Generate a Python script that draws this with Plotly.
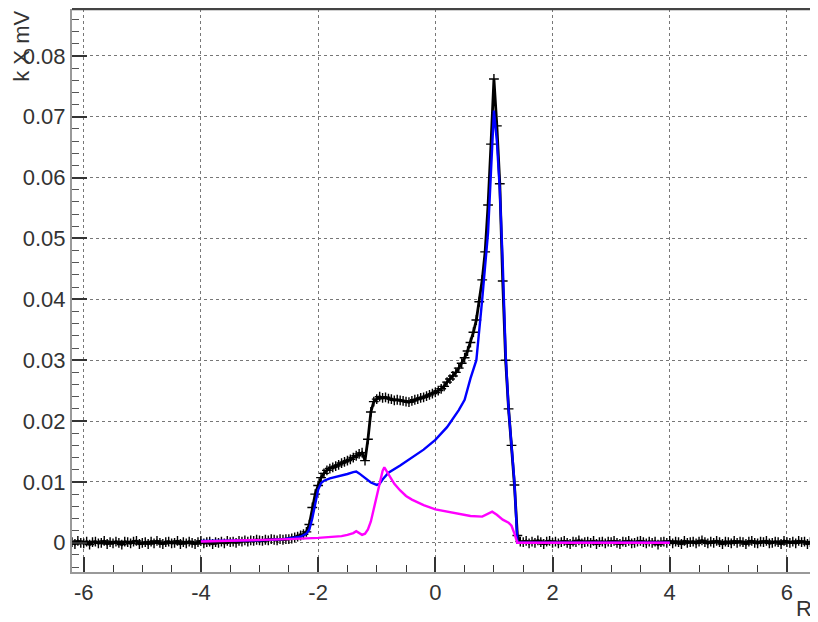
import numpy as np
import plotly.graph_objects as go

# ---------------- data ----------------
black_x0 = -6.2
black_step = 0.05
black_left = [
    0.0001, -0.0002, 0.0003, 0.0000, -0.0001, 0.0002, -0.0003, 0.0001, 0.0002, -0.0001,
    0.0000, 0.0003, -0.0002, 0.0001, -0.0001, 0.0002, 0.0000, -0.0003, 0.0002, 0.0001,
    -0.0001, 0.0002, 0.0003, -0.0002, 0.0000, 0.0001, -0.0002, 0.0002, -0.0001, 0.0003,
    0.0000, -0.0002, 0.0001, 0.0002, -0.0001, 0.0000, 0.0003, -0.0002, 0.0001, -0.0001,
    0.0002, 0.0000, -0.0002, 0.0001, 0.0003, -0.0001, 0.0001, 0.0002, -0.0002, 0.0001,
    0.0000, 0.0002, -0.0001, 0.0003, 0.0001, 0.0002, 0.0000, 0.0003, 0.0002, 0.0004,
    0.0002, 0.0004, 0.0003, 0.0005, 0.0004, 0.0003, 0.0005, 0.0004, 0.0006, 0.0005,
    0.0004, 0.0006, 0.0005, 0.0006,
]
black_mid = [
    0.0006, 0.0007, 0.0009, 0.0010, 0.0012, 0.0014, 0.0018, 0.0030, 0.0058, 0.0080,
    0.0094, 0.0107, 0.0114, 0.0119, 0.0122, 0.0124, 0.0126, 0.0128, 0.0131, 0.0133,
    0.0135, 0.0137, 0.0140, 0.0143, 0.0146, 0.0148, 0.0135, 0.0170, 0.0215, 0.0232,
    0.0236, 0.0240, 0.0238, 0.0239, 0.0237, 0.0236, 0.0234, 0.0235, 0.0234, 0.0233,
    0.0232, 0.0231, 0.0233, 0.0235, 0.0236, 0.0238, 0.0239, 0.0241, 0.0243, 0.0245,
    0.0247, 0.0250, 0.0253, 0.0257, 0.0264, 0.0269, 0.0274, 0.0280, 0.0287, 0.0295,
    0.0304, 0.0315, 0.0329, 0.0346, 0.0366, 0.0396, 0.0432, 0.0478, 0.0555, 0.0655,
    0.0762, 0.0685, 0.0590, 0.0430, 0.0300, 0.0220, 0.0160, 0.0095, 0.0012, 0.0002,
]
black_right = [
    0.0001, 0.0003, -0.0001, 0.0002, 0.0000, 0.0004, 0.0001, -0.0002, 0.0002, 0.0003,
    0.0000, 0.0002, -0.0001, 0.0001, 0.0003, 0.0000, -0.0002, 0.0002, 0.0001, 0.0004,
    -0.0001, 0.0001, 0.0002, 0.0000, 0.0003, -0.0002, 0.0001, 0.0002, -0.0001, 0.0002,
    0.0001, 0.0003, 0.0000, -0.0002, 0.0002, 0.0001, 0.0003, -0.0001, 0.0000, 0.0002,
    0.0003, 0.0001, -0.0001, 0.0002, 0.0000, 0.0002, -0.0003, 0.0001, 0.0002, 0.0000,
    0.0003, -0.0001, 0.0002, 0.0001, -0.0002, 0.0003, 0.0000, 0.0001, 0.0002, -0.0001,
    0.0002, 0.0004, 0.0001, -0.0001, 0.0002, 0.0000, 0.0003, 0.0001, -0.0002, 0.0002,
    0.0001, -0.0001, 0.0003, 0.0000, 0.0002, 0.0001, -0.0002, 0.0002, 0.0003, 0.0000,
    -0.0001, 0.0002, 0.0001, 0.0003, -0.0001, 0.0000, 0.0002, 0.0001, -0.0002, 0.0003,
    0.0001, 0.0000, 0.0002, -0.0001, 0.0003, 0.0001, 0.0002, -0.0002, 0.0001, 0.0000,
    0.0002,
]

blue_x = [-4.0, -3.5, -3.0, -2.6, -2.4, -2.3, -2.2, -2.15, -2.1, -2.05, -2.0, -1.95,
          -1.9, -1.8, -1.7, -1.6, -1.5, -1.4, -1.35, -1.3, -1.2, -1.1, -1.0, -0.95,
          -0.9, -0.8, -0.6, -0.4, -0.2, 0.0, 0.2, 0.4, 0.5, 0.6, 0.7, 0.8, 0.85, 0.9,
          0.95, 1.0, 1.05, 1.1, 1.15, 1.2, 1.25, 1.3, 1.35, 1.4, 2.0, 3.0, 4.0]
blue_y = [0.0003, 0.0003, 0.0004, 0.0006, 0.0008, 0.0010, 0.0015, 0.0022, 0.0040, 0.0065,
          0.0087, 0.0098, 0.0102, 0.0106, 0.0108, 0.0110, 0.0113, 0.0116, 0.0117, 0.0114,
          0.0106, 0.0099, 0.0095, 0.0097, 0.0104, 0.0115, 0.0127, 0.0140, 0.0153, 0.0169,
          0.0190, 0.0218, 0.0235, 0.0270, 0.0300, 0.0400, 0.0450, 0.0510, 0.0610, 0.0710,
          0.0660, 0.0580, 0.0460, 0.0310, 0.0220, 0.0160, 0.0100, 0.0000, 0.0000, 0.0000,
          0.0000]

mag_x = [-4.0, -3.5, -3.0, -2.5, -2.0, -1.8, -1.6, -1.5, -1.4, -1.35, -1.3, -1.25, -1.2,
         -1.15, -1.1, -1.05, -1.0, -0.95, -0.9, -0.87, -0.8, -0.7, -0.6, -0.5, -0.4, -0.2,
         0.0, 0.2, 0.4, 0.6, 0.8, 0.9, 0.97, 1.05, 1.15, 1.25, 1.3, 1.35, 1.4, 2.0, 3.0, 4.0]
mag_y = [0.0002, 0.0003, 0.0004, 0.0006, 0.0008, 0.0009, 0.0011, 0.0013, 0.0016, 0.0019,
         0.0016, 0.0013, 0.0015, 0.0022, 0.0035, 0.0055, 0.0078, 0.0100, 0.0118, 0.0124,
         0.0112, 0.0097, 0.0086, 0.0077, 0.0071, 0.0062, 0.0055, 0.0051, 0.0047, 0.0044,
         0.0043, 0.0047, 0.0051, 0.0046, 0.0038, 0.0033, 0.0028, 0.0015, 0.0000, 0.0000,
         0.0000, 0.0000]

x_ticks = [-6, -4, -2, 0, 2, 4, 6]
x_ticktext = ["-6", "-4", "-2", "0", "2", "4", "6"]
y_ticks = [0, 0.01, 0.02, 0.03, 0.04, 0.05, 0.06, 0.07, 0.08]
y_ticktext = ["0", "0.01", "0.02", "0.03", "0.04", "0.05", "0.06", "0.07", "0.08"]
x_title = "R"
y_title = "k X mV"

# ---------------- figure ----------------
black_y = black_left + black_mid + black_right
black_x = black_x0 + black_step * np.arange(len(black_y))

fig = go.Figure()
fig.add_trace(go.Scatter(
    x=black_x, y=black_y, mode="lines+markers",
    line=dict(color="black", width=2.8),
    marker=dict(symbol="cross-thin", size=7, line=dict(color="black", width=1.4)),
    showlegend=False, hoverinfo="skip"))
fig.add_trace(go.Scatter(
    x=blue_x, y=blue_y, mode="lines",
    line=dict(color="#0000ff", width=2.4), showlegend=False))
fig.add_trace(go.Scatter(
    x=mag_x, y=mag_y, mode="lines",
    line=dict(color="#ff00ff", width=2.4), showlegend=False))

font_family = "Liberation Sans, Arial, Helvetica, sans-serif"
tick_font = dict(family=font_family, size=22, color="#333333")

# the page body adds an 8 px offset; the figure is sized so the plot area
# lands at x 72..818, y 8..572 in the 818x622 window
fig.update_layout(
    width=810, height=614,
    margin=dict(l=64, r=0, t=1, b=50),
    paper_bgcolor="white", plot_bgcolor="white",
    showlegend=False,
    xaxis=dict(
        range=[-6.2, 6.53], tickvals=x_ticks, ticktext=x_ticktext,
        ticks="inside", ticklen=15, tickwidth=1.5, tickcolor="#333333",
        minor=dict(dtick=0.5, ticks="inside", ticklen=7, tickcolor="#333333",
                   tickwidth=1, showgrid=False),
        showline=True, linecolor="#999999", linewidth=2,
        showgrid=True, gridcolor="#777777", griddash="dot", gridwidth=1,
        zeroline=False, tickfont=tick_font),
    yaxis=dict(
        range=[-0.0048, 0.0877], tickvals=y_ticks, ticktext=y_ticktext,
        ticks="inside", ticklen=15, tickwidth=1.5, tickcolor="#333333",
        minor=dict(dtick=0.002, ticks="inside", ticklen=7, tickcolor="#555555",
                   tickwidth=1, showgrid=False),
        showline=True, linecolor="#999999", linewidth=2,
        showgrid=True, gridcolor="#777777", griddash="dot", gridwidth=1,
        zeroline=False, tickfont=tick_font),
)

# top frame line
fig.add_shape(type="line", xref="paper", yref="paper", x0=0, x1=1, y0=1, y1=1,
              line=dict(color="#444444", width=2.5))

fig.add_annotation(text=x_title, xref="paper", yref="paper", x=0.994, y=-0.064,
                   xanchor="right", yanchor="middle", showarrow=False,
                   font=dict(family=font_family, size=22, color="#333333"))
fig.add_annotation(text=y_title, xref="paper", yref="paper", x=-0.068, y=1.0,
                   xanchor="center", yanchor="top", textangle=-90, showarrow=False,
                   font=dict(family=font_family, size=22, color="#333333"))

fig.write_html("out.html")
